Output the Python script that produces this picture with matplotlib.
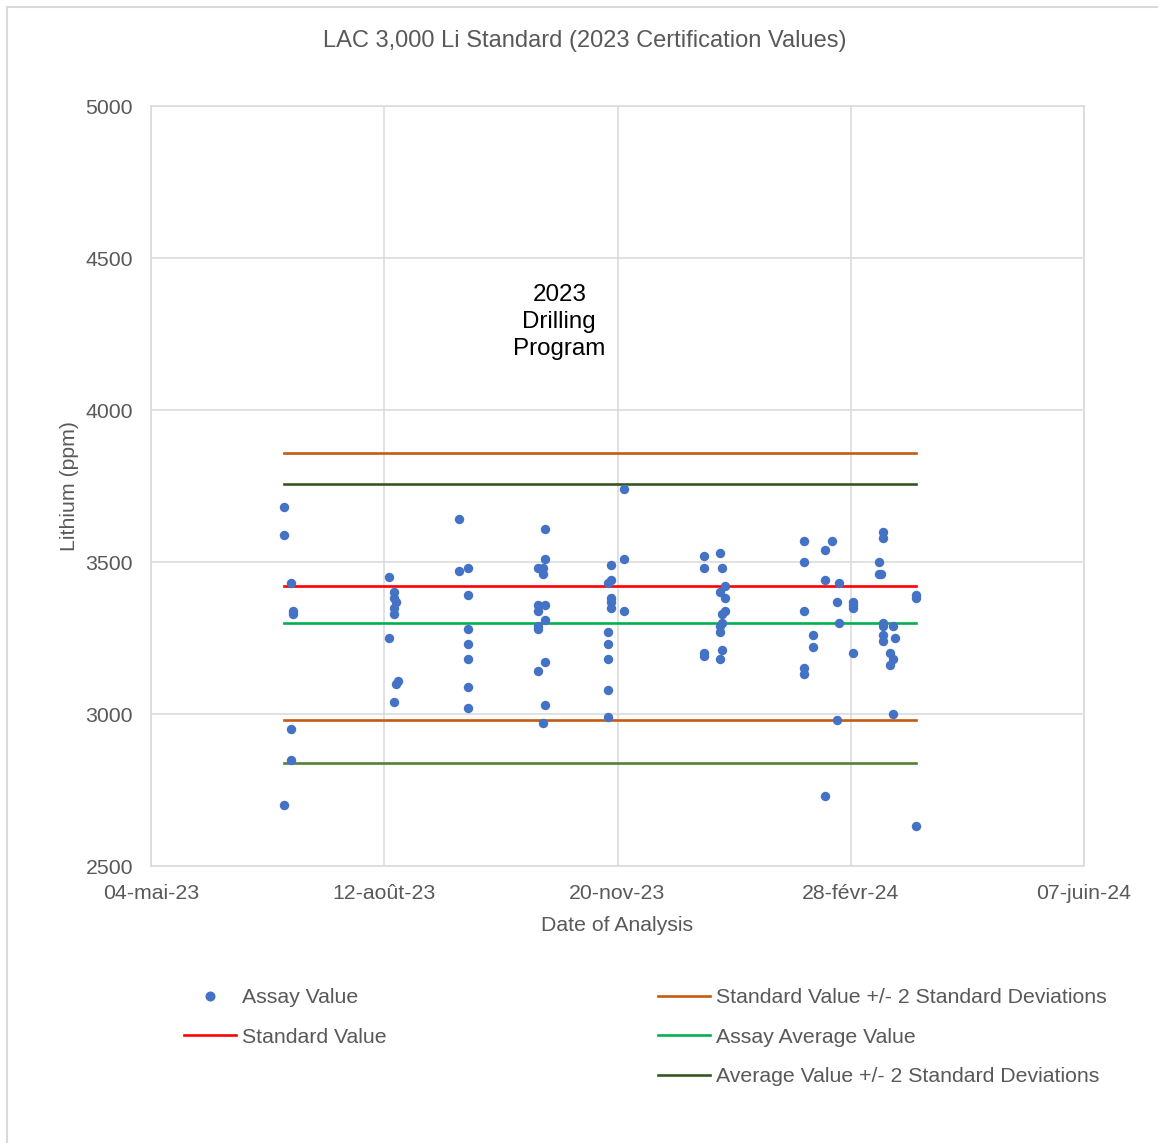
import matplotlib
matplotlib.use("Agg")
import matplotlib.pyplot as plt
from matplotlib.lines import Line2D
import pandas as pd

# assay results (date of analysis, Li ppm)
assay_dates = [
    "2023-06-30", "2023-06-30", "2023-06-30",
    "2023-07-03", "2023-07-03", "2023-07-03",
    "2023-07-04", "2023-07-04",
    "2023-08-14", "2023-08-14",
    "2023-08-16", "2023-08-16", "2023-08-16", "2023-08-16", "2023-08-16",
    "2023-08-17", "2023-08-17",
    "2023-08-18",
    "2023-09-13", "2023-09-13",
    "2023-09-17", "2023-09-17", "2023-09-17", "2023-09-17", "2023-09-17", "2023-09-17", "2023-09-17",
    "2023-10-17", "2023-10-17", "2023-10-17", "2023-10-17", "2023-10-17", "2023-10-17",
    "2023-10-19", "2023-10-19", "2023-10-19",
    "2023-10-20", "2023-10-20", "2023-10-20", "2023-10-20", "2023-10-20", "2023-10-20",
    "2023-11-16", "2023-11-16", "2023-11-16", "2023-11-16", "2023-11-16", "2023-11-16",
    "2023-11-17", "2023-11-17", "2023-11-17", "2023-11-17", "2023-11-17",
    "2023-11-23", "2023-11-23", "2023-11-23",
    "2023-12-27", "2023-12-27", "2023-12-27", "2023-12-27",
    "2024-01-03", "2024-01-03", "2024-01-03", "2024-01-03", "2024-01-03",
    "2024-01-04", "2024-01-04", "2024-01-04", "2024-01-04",
    "2024-01-05", "2024-01-05", "2024-01-05",
    "2024-02-08", "2024-02-08", "2024-02-08", "2024-02-08", "2024-02-08",
    "2024-02-12", "2024-02-12",
    "2024-02-17", "2024-02-17", "2024-02-17",
    "2024-02-20",
    "2024-02-22", "2024-02-22",
    "2024-02-23", "2024-02-23",
    "2024-02-29", "2024-02-29", "2024-02-29", "2024-02-29",
    "2024-03-11", "2024-03-11",
    "2024-03-12",
    "2024-03-13", "2024-03-13", "2024-03-13", "2024-03-13", "2024-03-13", "2024-03-13",
    "2024-03-16", "2024-03-16",
    "2024-03-17", "2024-03-17", "2024-03-17",
    "2024-03-18",
    "2024-03-27", "2024-03-27", "2024-03-27",
]
assay_values = [
    3680, 3590, 2700,
    3430, 2950, 2850,
    3340, 3330,
    3450, 3250,
    3400, 3380, 3350, 3330, 3040,
    3370, 3100,
    3110,
    3640, 3470,
    3480, 3390, 3280, 3230, 3180, 3090, 3020,
    3480, 3360, 3340, 3290, 3280, 3140,
    3480, 3460, 2970,
    3610, 3510, 3360, 3310, 3170, 3030,
    3430, 3270, 3230, 3180, 3080, 2990,
    3490, 3440, 3380, 3370, 3350,
    3740, 3510, 3340,
    3520, 3480, 3200, 3190,
    3530, 3400, 3290, 3270, 3180,
    3480, 3330, 3300, 3210,
    3420, 3380, 3340,
    3570, 3500, 3340, 3150, 3130,
    3260, 3220,
    3540, 3440, 2730,
    3570,
    3370, 2980,
    3430, 3300,
    3370, 3360, 3350, 3200,
    3500, 3460,
    3460,
    3600, 3580, 3300, 3290, 3260, 3240,
    3200, 3160,
    3290, 3180, 3000,
    3250,
    3390, 3380, 2630,
]

standard_value = 3420
standard_upper = 3860
standard_lower = 2980
average_value = 3298
average_upper = 3757
average_lower = 2839

x_ticks = ["2023-05-04", "2023-08-12", "2023-11-20", "2024-02-28", "2024-06-07"]
x_tick_labels = ["04-mai-23", "12-août-23", "20-nov-23", "28-févr-24", "07-juin-24"]
y_ticks = [2500, 3000, 3500, 4000, 4500, 5000]

plt.rcParams['font.family'] = ['Liberation Sans', 'DejaVu Sans']
grey = "#595959"
gridc = "#D9D9D9"
fs = 15.3

dates = pd.to_datetime(assay_dates)
span = [dates.min(), dates.max()]

fig = plt.figure(figsize=(11.58, 11.43), dpi=100)
ax = fig.add_axes([151/1158, 1 - 866/1143, (1084-151)/1158, (866-106)/1143])

lw = 1.9
ax.plot(span, [standard_upper]*2, color="#C55A11", lw=lw, zorder=2)
ax.plot(span, [standard_lower]*2, color="#C55A11", lw=lw, zorder=2)
ax.plot(span, [average_upper]*2, color="#375623", lw=lw, zorder=2)
ax.plot(span, [average_lower]*2, color="#548235", lw=lw, zorder=2)
ax.plot(span, [average_value]*2, color="#00B050", lw=lw, zorder=2)
ax.plot(span, [standard_value]*2, color="#FF0000", lw=lw, zorder=2)
ax.scatter(dates, assay_values, s=46, color="#4472C4", zorder=3, linewidths=0)

ax.set_xlim(pd.Timestamp(x_ticks[0]), pd.Timestamp(x_ticks[-1]))
ax.set_ylim(2500, 5000)
ax.set_xticks(pd.to_datetime(x_ticks))
ax.set_xticklabels(x_tick_labels)
ax.set_yticks(y_ticks)
ax.tick_params(length=0, labelsize=fs, colors=grey)
ax.tick_params(axis="x", pad=13)
ax.tick_params(axis="y", pad=13)
ax.grid(True, color=gridc, lw=1.1)
ax.set_axisbelow(True)
for sp in ax.spines.values():
    sp.set_color(gridc)
    sp.set_linewidth(1.1)

ax.set_xlabel("Date of Analysis", fontsize=fs, color=grey, labelpad=9)
ax.set_ylabel("Lithium (ppm)", fontsize=fs, color=grey, labelpad=5)

ax.text(pd.Timestamp("2023-10-26"), 4289, "2023\nDrilling\nProgram", ha="center", va="center",
        fontsize=17.4, color="black", linespacing=1.3)

fig.text(585/1158, 1 - 41/1143, "LAC 3,000 Li Standard (2023 Certification Values)",
         ha="center", va="center", fontsize=17, color=grey)

# legend in two columns like the Excel chart
h_assay = Line2D([], [], ls="none", marker="o", ms=6.2, mfc="#4472C4", mec="#4472C4")
h_std = Line2D([], [], color="#FF0000", lw=lw)
h_std2 = Line2D([], [], color="#C55A11", lw=lw)
h_avg = Line2D([], [], color="#00B050", lw=lw)
h_avg2 = Line2D([], [], color="#375623", lw=lw)

leg_kw = dict(frameon=False, fontsize=fs, labelcolor=grey, handlelength=2.45, handletextpad=0.3,
              labelspacing=0.97, borderpad=0, borderaxespad=0, loc="upper left")
fig.legend([h_assay, h_std], ["Assay Value", "Standard Value"],
           bbox_to_anchor=(184/1158, 1 - 988/1143), **leg_kw)
fig.legend([h_std2, h_avg, h_avg2],
           ["Standard Value +/- 2 Standard Deviations", "Assay Average Value",
            "Average Value +/- 2 Standard Deviations"],
           bbox_to_anchor=(658/1158, 1 - 988/1143), **leg_kw)

# chart area border (only top and left visible in the picture)
fig.add_artist(Line2D([7/1158, 7/1158], [0, 1 - 7/1143], color=gridc, lw=1.5))
fig.add_artist(Line2D([7/1158, 1], [1 - 7/1143, 1 - 7/1143], color=gridc, lw=1.5))

fig.savefig("out.png", dpi=100, facecolor="white")
